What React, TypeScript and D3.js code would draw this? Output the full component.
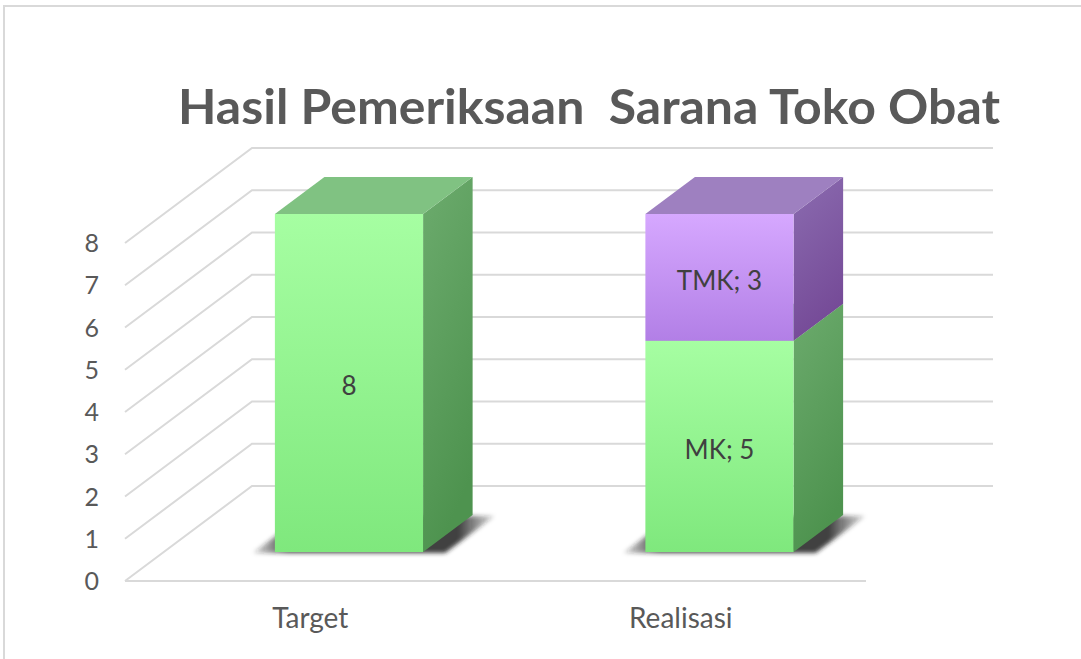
import React, { useEffect } from 'react';
import * as d3 from 'd3';

// data
const categories = ['Target', 'Realisasi'];
const seriesNames = ['MK', 'TMK'];
const mkValues = [8, 5];
const tmkValues = [0, 3];
const showSeriesName = [false, true]; // Realisasi labels show "series; value"
const yTicks = [0, 1, 2, 3, 4, 5, 6, 7, 8];
const title = 'Hasil Pemeriksaan  Sarana Toko Obat';

const W = 1081;
const H = 659;
// floor front edge + perspective depth vector
const FLOOR_LEFT = 125;
const FLOOR_RIGHT = 866;
const FLOOR_Y = 581;
const TOP_Y = 243;
const DX = 127;
const DY = -95;
const T0 = 0.305; // bar front depth
const T1 = 0.695; // bar back depth

const COLORS: Record<string, { front: string[]; side: string[]; top: string }> = {
  MK: { front: ['#a6fea2', '#7fe87d'], side: ['#6cab6d', '#4e934f'], top: '#80c282' },
  TMK: { front: ['#d6a8ff', '#b27fe6'], side: ['#8b6cb0', '#754a97'], top: '#9e80c0' },
};

const App: React.FC = () => {
  useEffect(() => {
    document.body.style.margin = '0';
  }, []);

  const y = d3.scaleLinear().domain([0, 8]).range([FLOOR_Y, TOP_Y]);
  const x = d3
    .scaleBand()
    .domain(categories)
    .range([FLOOR_LEFT, FLOOR_RIGHT])
    .paddingInner(0.6)
    .paddingOuter(0.3);
  const bw = x.bandwidth();

  const rows = categories.map((c, i) => ({ cat: c, MK: mkValues[i], TMK: tmkValues[i] }));
  const stacked = d3.stack<any>().keys(seriesNames)(rows);

  const pt = (px: number, v: number, t: number) => [px + DX * t, y(v) + DY * t];
  const poly = (pts: number[][]) => pts.map((p) => p.join(',')).join(' ');

  const font = 'Lato, "Open Sans", sans-serif';

  return (
    <svg width={W} height={H} style={{ display: 'block', background: '#fff' }}>
      <defs>
        {seriesNames.map((s) => (
          <React.Fragment key={s}>
            <linearGradient id={`front-${s}`} x1="0" y1="0" x2="0" y2="1">
              <stop offset="0%" stopColor={COLORS[s].front[0]} />
              <stop offset="100%" stopColor={COLORS[s].front[1]} />
            </linearGradient>
            <linearGradient id={`side-${s}`} x1="0" y1="0" x2="0.3" y2="1">
              <stop offset="0%" stopColor={COLORS[s].side[0]} />
              <stop offset="100%" stopColor={COLORS[s].side[1]} />
            </linearGradient>
          </React.Fragment>
        ))}
        <linearGradient id="shadow-fade" x1="0" y1="0" x2="1" y2="0">
          <stop offset="0%" stopColor="#222" stopOpacity={0.15} />
          <stop offset="15%" stopColor="#222" stopOpacity={0.85} />
          <stop offset="85%" stopColor="#222" stopOpacity={0.85} />
          <stop offset="100%" stopColor="#222" stopOpacity={0.15} />
        </linearGradient>
        <filter id="shadow" x="-30%" y="-100%" width="160%" height="300%">
          <feGaussianBlur stdDeviation="2.2" />
        </filter>
      </defs>

      {/* outer frame */}
      <rect x={4} y={6} width={W + 20} height={H + 20} fill="none" stroke="#d9d9d9" strokeWidth={2} />

      {/* title */}
      <text
        x={589}
        y={124}
        textAnchor="middle"
        fontFamily={font}
        fontWeight={700}
        fontSize={48}
        fill="#595959"
        textLength={822}
        lengthAdjust="spacingAndGlyphs"
        style={{ whiteSpace: 'pre' }}
      >
        {title}
      </text>

      {/* gridlines: side wall diagonals + back wall lines */}
      <g stroke="#d9d9d9" strokeWidth={2} fill="none">
        {yTicks.map((v) => {
          const a = pt(FLOOR_LEFT, v, 0);
          const b = pt(FLOOR_LEFT, v, 1);
          const c = pt(FLOOR_RIGHT, v, 1);
          return <polyline key={v} points={poly([a, b, c])} />;
        })}
        <line x1={FLOOR_LEFT} x2={FLOOR_RIGHT} y1={y(0)} y2={y(0)} />
      </g>

      {/* y axis labels */}
      <g fontFamily={font} fontSize={25} fill="#595959" textAnchor="end">
        {yTicks.map((v) => (
          <text key={v} x={99} y={y(v)} dy="0.36em">
            {v}
          </text>
        ))}
      </g>

      {/* shadows */}
      {categories.map((c) => {
        const x0 = x(c)! - 22;
        const x1 = x(c)! + bw + 22;
        const pts = [pt(x0, 0, T0), pt(x1, 0, T0), pt(x1, 0, T1), pt(x0, 0, T1)].map((p) => [p[0], p[1] + 1]);
        return <polygon key={c} points={poly(pts)} fill="url(#shadow-fade)" filter="url(#shadow)" />;
      })}

      {/* bars */}
      {stacked.map((layer) =>
        layer.map((d, i) => {
          const [v0, v1] = d;
          if (v1 - v0 <= 0) return null;
          const s = layer.key;
          const cat = categories[i];
          const xl = x(cat)!;
          const xr = xl + bw;
          const front = [pt(xl, v1, T0), pt(xr, v1, T0), pt(xr, v0, T0), pt(xl, v0, T0)];
          const side = [pt(xr, v1, T0), pt(xr, v1, T1), pt(xr, v0, T1), pt(xr, v0, T0)];
          const top = [pt(xl, v1, T0), pt(xl, v1, T1), pt(xr, v1, T1), pt(xr, v1, T0)];
          return (
            <g key={`${s}-${cat}`}>
              <polygon points={poly(side)} fill={`url(#side-${s})`} />
              <polygon points={poly(top)} fill={COLORS[s].top} />
              <polygon points={poly(front)} fill={`url(#front-${s})`} />
            </g>
          );
        })
      )}

      {/* data labels */}
      <g fontFamily={font} fontSize={26} fill="#404040" textAnchor="middle">
        {stacked.map((layer) =>
          layer.map((d, i) => {
            const [v0, v1] = d;
            if (v1 - v0 <= 0) return null;
            const cat = categories[i];
            const [lx, ly] = pt(x(cat)! + bw / 2, (v0 + v1) / 2, T0);
            const label = showSeriesName[i] ? `${layer.key}; ${v1 - v0}` : `${v1 - v0}`;
            return (
              <text key={`${layer.key}-${cat}`} x={lx} y={ly + 3} dy="0.36em">
                {label}
              </text>
            );
          })
        )}
      </g>

      {/* category labels */}
      <g fontFamily={font} fontSize={28} fill="#595959" textAnchor="middle">
        {categories.map((c) => (
          <text key={c} x={x(c)! + bw / 2} y={628}>
            {c}
          </text>
        ))}
      </g>
    </svg>
  );
};

export default App;
